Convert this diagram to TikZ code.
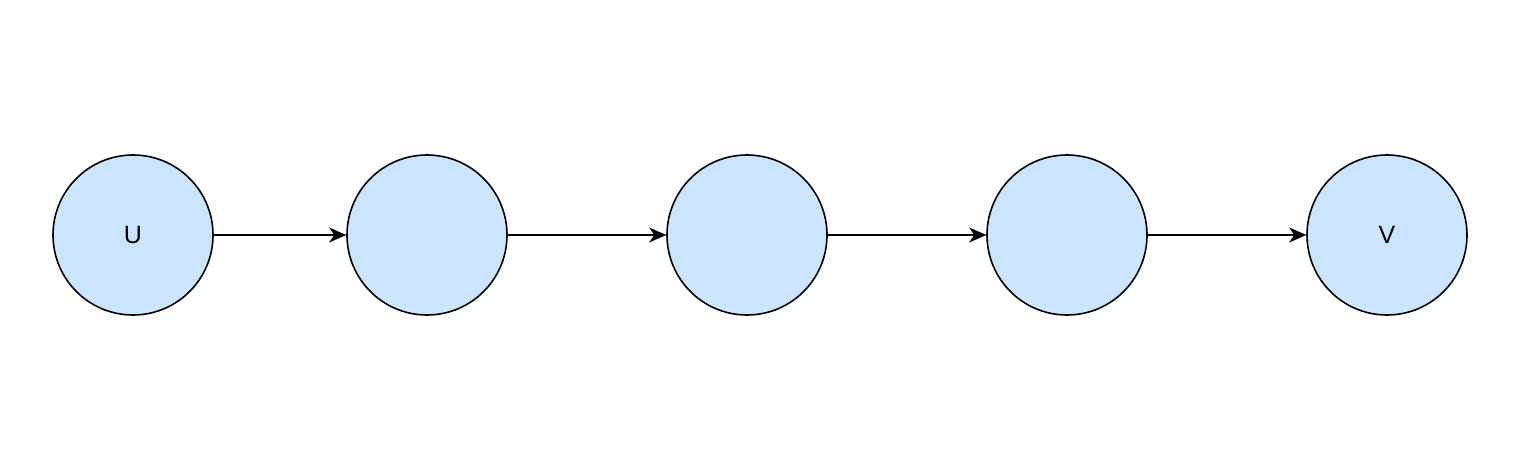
\documentclass[tikz,border=0pt]{standalone}
\usepackage{fontspec}
\setmainfont{Liberation Sans}
\usetikzlibrary{arrows.meta}
\definecolor{nodefill}{HTML}{CCE5FF}
\begin{document}
\begin{tikzpicture}[x=1pt,y=-1pt,
  vert/.style={circle,draw=black,fill=nodefill,line width=1.6pt,minimum size=160pt,inner sep=0pt,font=\fontsize{25}{30}\selectfont},
  conn/.style={line width=1.6pt,-{Stealth[length=17pt,width=15pt,inset=5pt]}}]
\useasboundingbox (0,0) rectangle (1532,476);
\node[vert] (u) at (133,235) {U};
\node[vert] (a) at (427,235) {};
\node[vert] (b) at (747,235) {};
\node[vert] (c) at (1067,235) {};
\node[vert] (v) at (1387,235) {V};
\draw[conn] (u) -- (a);
\draw[conn] (a) -- (b);
\draw[conn] (b) -- (c);
\draw[conn] (c) -- (v);
\end{tikzpicture}
\end{document}
